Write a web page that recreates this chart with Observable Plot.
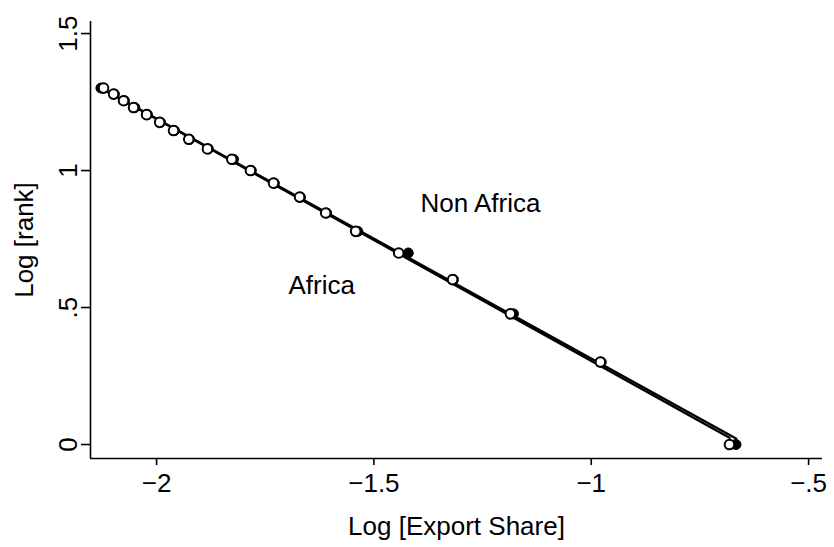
<!DOCTYPE html>
<html>
<head>
<meta charset="utf-8">
<script src="https://cdn.jsdelivr.net/npm/d3@7"></script>
<script src="https://cdn.jsdelivr.net/npm/@observablehq/plot@0.6"></script>
<style>
  html, body { margin: 0; padding: 0; background: #fff; }
  #chart svg { display: block; }
</style>
</head>
<body>
<div id="chart"></div>
<script>
// Log [rank] values (ranks 20 .. 1)
const logRank = [1.301, 1.279, 1.255, 1.230, 1.204, 1.176, 1.146, 1.114, 1.079, 1.041,
                 1.000, 0.954, 0.903, 0.845, 0.778, 0.699, 0.602, 0.477, 0.301, 0.000];
// Log [Export Share], Non Africa (hollow circles)
const nonAfricaShare = [-2.122, -2.099, -2.076, -2.053, -2.023, -1.993, -1.961, -1.926, -1.883, -1.827,
                        -1.784, -1.731, -1.671, -1.611, -1.542, -1.443, -1.319, -1.186, -0.979, -0.682];
// Log [Export Share], Africa (filled circles)
const africaShare = [-2.128, -2.097, -2.074, -2.050, -2.021, -1.991, -1.959, -1.924, -1.881, -1.823,
                     -1.782, -1.729, -1.669, -1.609, -1.537, -1.421, -1.317, -1.179, -0.977, -0.667];

const xTicks = [-2, -1.5, -1, -0.5];
const xTickLabels = ["\u22122", "\u22121.5", "\u22121", "\u2212.5"];
const yTicks = [0, 0.5, 1, 1.5];
const yTickLabels = ["0", ".5", "1", "1.5"];

const labels = [
  {text: "Non Africa", x: -1.255, y: 0.88},
  {text: "Africa", x: -1.62, y: 0.58}
];

const xDomain = [-2.152, -0.468];
const yDomain = [-0.051, 1.544];

const nonAfrica = logRank.map((y, i) => ({x: nonAfricaShare[i], y}));
const africa = logRank.map((y, i) => ({x: africaShare[i], y}));

const font = "'Liberation Sans', Arial, Helvetica, sans-serif";
const fs = 26;

const chart = Plot.plot({
  width: 834,
  height: 547,
  marginLeft: 90,
  marginRight: 12,
  marginTop: 21,
  marginBottom: 89,
  style: {fontFamily: font, fontSize: fs + "px", color: "#000", background: "#fff"},
  x: {domain: xDomain},
  y: {domain: yDomain},
  marks: [
    Plot.ruleY([yDomain[0]], {stroke: "#000", strokeWidth: 1.6}),
    Plot.ruleX([xDomain[0]], {stroke: "#000", strokeWidth: 1.6}),
    Plot.axisX({ticks: xTicks, tickSize: 7, tickPadding: 8, tickFormat: (d, i) => xTickLabels[i],
                fontSize: fs, strokeWidth: 1.6, label: null}),
    Plot.text(["Log [Export Share]"], {frameAnchor: "bottom", dy: 68, textAnchor: "middle",
                                       lineAnchor: "middle", fontSize: fs}),
    Plot.axisY({ticks: yTicks, tickSize: 9, tickFormat: () => "", strokeWidth: 1.6,
                label: null}),
    Plot.text(yTicks, {y: d => d, text: (d, i) => yTickLabels[i], frameAnchor: "left",
                       dx: -14, rotate: -90, textAnchor: "middle", lineAnchor: "bottom", fontSize: fs}),
    Plot.text(["Log [rank]"], {frameAnchor: "left", dx: -66, rotate: -90, textAnchor: "middle",
                               lineAnchor: "middle", fontSize: fs}),
    Plot.linearRegressionY(nonAfrica, {x: "x", y: "y", stroke: "#000", strokeWidth: 2.4, ci: 0}),
    Plot.linearRegressionY(africa, {x: "x", y: "y", stroke: "#000", strokeWidth: 2.4, ci: 0}),
    Plot.dot(africa, {x: "x", y: "y", r: 5, fill: "#000", stroke: "#000", strokeWidth: 1}),
    Plot.dot(nonAfrica, {x: "x", y: "y", r: 4.8, fill: "#fff", stroke: "#000", strokeWidth: 2}),
    Plot.text(labels, {x: "x", y: "y", text: "text", fontSize: fs, textAnchor: "middle"})
  ]
});
document.getElementById("chart").appendChild(chart);
</script>
</body>
</html>
